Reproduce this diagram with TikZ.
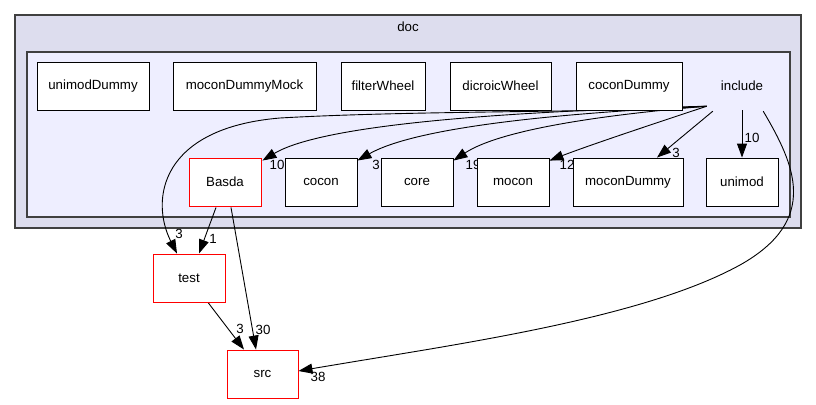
\documentclass[tikz,border=0pt]{standalone}
\usepackage{fontspec}
\setmainfont{Liberation Sans}
\usetikzlibrary{calc,arrows.meta}
\definecolor{outerfill}{HTML}{DDDDEE}
\definecolor{innerfill}{HTML}{EEEEFF}
\definecolor{clborder}{HTML}{404040}
\pgfdeclarelayer{bg}
\pgfdeclarelayer{mid}
\pgfsetlayers{bg,mid,main}
\begin{document}
\begin{tikzpicture}[x=1pt,y=-1pt,
  every node/.style={font=\fontsize{13.3}{15}\selectfont, inner sep=0pt},
  dirbox/.style={draw=black, fill=white, line width=0.9pt, minimum height=48pt},
  redbox/.style={dirbox, draw=red},
  depedge/.style={draw=black, line width=0.9pt, arrows={-Triangle[length=14pt,width=10pt]}},
  elabel/.style={font=\fontsize{13.3}{15}\selectfont}]
\useasboundingbox (0,0) rectangle (816,404);
% clusters
\begin{pgfonlayer}{bg}
\node[draw=clborder, fill=outerfill, line width=1.4pt, minimum width=786pt, minimum height=213pt] (doc) at (408,121.5) {};
\node[draw=clborder, fill=innerfill, line width=1.1pt, minimum width=763pt, minimum height=165pt] (incl) at (408.5,134.5) {};
\end{pgfonlayer}
\node (doclabel) at (408,27) {doc};
% top row
\node[dirbox, minimum width=112pt] (unimodDummy) at (93,86) {unimodDummy};
\node[dirbox, minimum width=143pt] (moconDummyMock) at (244.5,86) {moconDummyMock};
\node[dirbox, minimum width=84pt] (filterWheel) at (383,86) {filterWheel};
\node[dirbox, minimum width=101pt] (dicroicWheel) at (500.5,86) {dicroicWheel};
\node[dirbox, minimum width=106pt] (coconDummy) at (629,86) {coconDummy};
\node[minimum width=72pt, minimum height=48pt] (include) at (742,86) {include};
% bottom row
\node[redbox, minimum width=72pt] (Basda) at (225,182) {Basda};
\node[dirbox, minimum width=72pt] (cocon) at (321,182) {cocon};
\node[dirbox, minimum width=72pt] (core) at (417,182) {core};
\node[dirbox, minimum width=72pt] (mocon) at (513,182) {mocon};
\node[dirbox, minimum width=110pt] (moconDummy) at (628,182) {moconDummy};
\node[dirbox, minimum width=72pt] (unimod) at (742,182) {unimod};
% outside
\node[redbox, minimum width=72pt] (test) at (189,278) {test};
\node[redbox, minimum width=71pt] (src) at (262.5,374) {src};
% edges
\coordinate (i0) at ($(include.south west)+(1,-4)$);
\coordinate (i1) at ($(include.south west)+(7,1)$);
\coordinate (i2) at ($(include.south east)+(-15,1)$);
\begin{pgfonlayer}{mid}
\draw[depedge] (i0) .. controls (620,113) and (420,110) .. (280,118)
  .. controls (160,128) and (150,200) .. ($(test.north)+(-12,0)$);
\draw[depedge] (i0) .. controls (560,110) and (330,120) .. ($(Basda.north east)+(1,3)$);
\draw[depedge] (i0) .. controls (580,112) and (420,125) .. ($(cocon.north east)+(0,3)$);
\draw[depedge] (i0) .. controls (600,115) and (500,130) .. ($(core.north east)+(0,3)$);
\draw[depedge] (i0) .. controls (650,125) and (590,145) .. ($(mocon.north east)+(0,3)$);
\draw[depedge] (i1) -- ($(moconDummy.north)+(29,0)$);
\draw[depedge] (include.south) -- (unimod.north);
\draw[depedge] (i2) .. controls (795,165) and (820,220) .. (740,265)
  .. controls (640,320) and (450,345) .. ($(src.east)+(0,-3)$);
\draw[depedge] ($(Basda.south)+(-9,1)$) -- ($(test.north)+(10,0)$);
\draw[depedge] ($(Basda.south)+(6,1)$) -- ($(src.north)+(-6.5,0)$);
\draw[depedge] ($(test.south)+(19,0)$) -- ($(src.north)+(-18.5,0)$);
% labels
\node[elabel] (l1) at (277,165) {10};
\node[elabel] (l2) at (376,165) {3};
\node[elabel] (l3) at (473,165) {19};
\node[elabel] (l4) at (567,165) {12};
\node[elabel] (l5) at (676,153) {3};
\node[elabel] (l6) at (752,138) {10};
\node[elabel] (l7) at (179,234) {3};
\node[elabel] (l8) at (213,239) {1};
\node[elabel] (l9) at (263,330) {30};
\node[elabel] (l10) at (240,329) {3};
\node[elabel] (l11) at (318,377) {38};
\end{pgfonlayer}
\end{tikzpicture}
\end{document}
